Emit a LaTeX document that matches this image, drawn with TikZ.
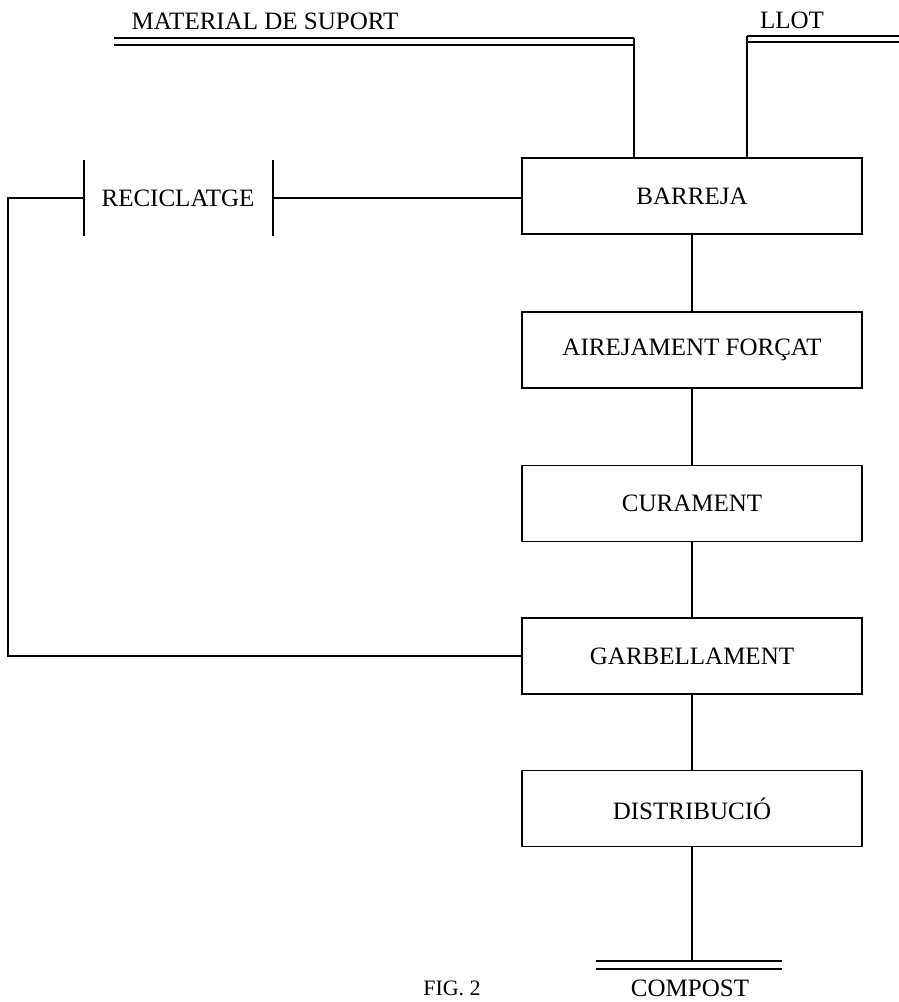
\documentclass[tikz,border=0pt]{standalone}
\usepackage{fontspec}
\setmainfont{Liberation Serif}
\begin{document}
\begin{tikzpicture}[x=1pt,y=-1pt,line width=1.3pt,
  stage/.style={draw,minimum width=340pt,minimum height=76pt,inner sep=0pt,font=\fontsize{25}{28}\selectfont},
  lbl/.style={inner sep=0pt,font=\fontsize{25}{28}\selectfont}]
\useasboundingbox (0,0) rectangle (899,1002);
% boxes
\node[stage] (barreja) at (692,196) {BARREJA};
\node[stage] (aire) at (692,350) {AIREJAMENT FORÇAT};
\node[stage] (cura) at (692,503.5) {CURAMENT};
\node[stage] (garb) at (692,656) {GARBELLAMENT};
\node[stage] (dist) at (692,808.5) {DISTRIBUCIÓ};
% reciclatge
\node[lbl,anchor=base] (recic) at (178,206) {RECICLATGE};
\coordinate (rb1t) at (84,160); \coordinate (rb1b) at (84,236);
\coordinate (rb2t) at (273,160); \coordinate (rb2b) at (273,236);
\draw (rb1t) -- (rb1b);
\draw (rb2t) -- (rb2b);
\coordinate (r1) at (84,198); \coordinate (r2) at (273,198);
\draw (r2) -- (r2 -| barreja.west);
\coordinate (lt) at (8,198); \coordinate (lb) at (8,656);
\draw (garb.west) -- (lb) -- (lt) -- (r1);
% vertical chain
\draw (barreja.south) -- (aire.north);
\draw (aire.south) -- (cura.north);
\draw (cura.south) -- (garb.north);
\draw (garb.south) -- (dist.north);
% material de suport
\node[lbl,anchor=base] (mat) at (265,29) {MATERIAL DE SUPORT};
\coordinate (m1a) at (114,38); \coordinate (m1b) at (634,38);
\coordinate (m2a) at (114,45); \coordinate (m2b) at (634,45);
\draw (m1a) -- (m1b);
\draw (m2a) -- (m2b);
\draw (m1b) -- (m1b |- barreja.north);
% llot
\node[lbl,anchor=base] (llot) at (792,28) {LLOT};
\coordinate (l1a) at (747,36); \coordinate (l1b) at (899,36);
\coordinate (l2a) at (747,42); \coordinate (l2b) at (899,42);
\draw (l1a) -- (l1b);
\draw (l2a) -- (l2b);
\draw (l1a) -- (l1a |- barreja.north);
% compost
\coordinate (c1a) at (596,961); \coordinate (c1b) at (782,961);
\coordinate (c2a) at (596,969); \coordinate (c2b) at (782,969);
\draw (c1a) -- (c1b);
\draw (c2a) -- (c2b);
\draw (dist.south) -- (dist.south |- c1a);
\node[lbl,anchor=base] (compost) at (690,996) {COMPOST};
\node[lbl,anchor=base,font=\fontsize{22}{25}\selectfont] (fig) at (452,995) {FIG. 2};
\end{tikzpicture}
\end{document}
